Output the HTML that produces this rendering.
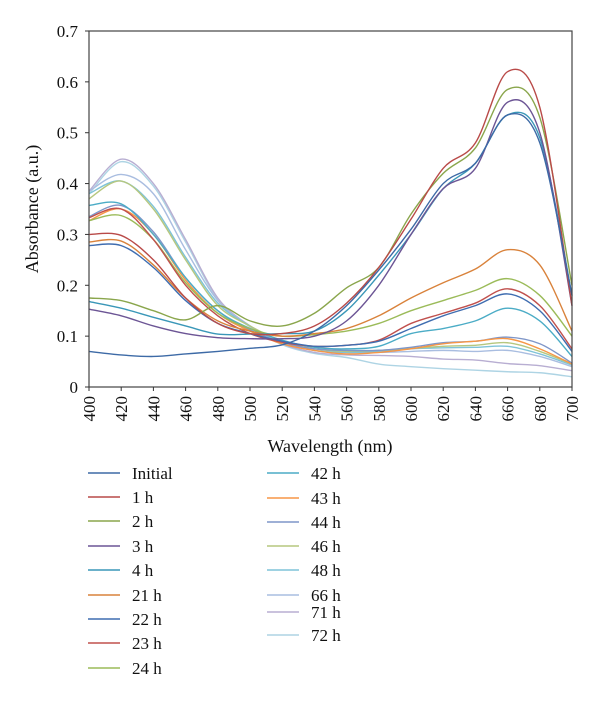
<!DOCTYPE html>
<html><head><meta charset="utf-8"><style>
html,body{margin:0;padding:0;background:#fff;}
svg{display:block;font-family:"Liberation Serif",serif;}
</style></head><body>
<svg id="chart" width="600" height="701" viewBox="0 0 600 701"></svg>
<script>
const wavelengths=[400,420,440,460,480,500,520,540,560,580,600,620,640,660,680,700];
const seriesNames=["Initial","1 h","2 h","3 h","4 h","21 h","22 h","23 h","24 h","42 h","43 h","44 h","46 h","48 h","66 h","71 h","72 h"];
const sInitial=[0.070,0.063,0.060,0.065,0.070,0.076,0.083,0.11,0.16,0.23,0.31,0.40,0.44,0.535,0.48,0.18];
const s1h=[0.300,0.298,0.250,0.175,0.125,0.105,0.105,0.12,0.165,0.235,0.33,0.43,0.48,0.62,0.55,0.16];
const s2h=[0.175,0.170,0.150,0.132,0.160,0.130,0.120,0.145,0.195,0.235,0.34,0.42,0.47,0.585,0.53,0.20];
const s3h=[0.153,0.140,0.120,0.105,0.097,0.095,0.095,0.10,0.13,0.20,0.30,0.39,0.43,0.56,0.50,0.16];
const s4h=[0.168,0.155,0.137,0.120,0.104,0.104,0.105,0.11,0.15,0.22,0.30,0.39,0.44,0.535,0.49,0.18];
const s21h=[0.285,0.287,0.240,0.175,0.130,0.110,0.100,0.105,0.115,0.14,0.175,0.205,0.232,0.27,0.24,0.11];
const s22h=[0.278,0.278,0.235,0.170,0.125,0.105,0.09,0.080,0.082,0.09,0.115,0.14,0.16,0.183,0.15,0.07];
const s23h=[0.333,0.350,0.290,0.200,0.140,0.105,0.088,0.080,0.082,0.092,0.125,0.145,0.165,0.193,0.16,0.075];
const s24h=[0.327,0.337,0.290,0.205,0.145,0.115,0.100,0.103,0.11,0.125,0.15,0.17,0.19,0.213,0.18,0.10];
const s42h=[0.357,0.360,0.300,0.215,0.150,0.115,0.092,0.078,0.075,0.08,0.105,0.115,0.13,0.155,0.13,0.06];
const s43h=[0.327,0.350,0.300,0.210,0.145,0.110,0.085,0.072,0.065,0.068,0.075,0.085,0.09,0.095,0.075,0.045];
const s44h=[0.335,0.357,0.305,0.215,0.150,0.112,0.088,0.075,0.072,0.072,0.078,0.087,0.09,0.098,0.085,0.047];
const s46h=[0.370,0.405,0.350,0.250,0.160,0.120,0.090,0.075,0.070,0.072,0.076,0.08,0.082,0.087,0.07,0.045];
const s48h=[0.380,0.405,0.355,0.255,0.165,0.120,0.088,0.072,0.068,0.07,0.075,0.077,0.078,0.08,0.065,0.043];
const s66h=[0.385,0.418,0.380,0.270,0.170,0.120,0.088,0.072,0.068,0.068,0.07,0.072,0.07,0.072,0.06,0.04];
const s71h=[0.385,0.448,0.400,0.290,0.175,0.120,0.085,0.068,0.063,0.062,0.06,0.055,0.053,0.046,0.042,0.032];
const s72h=[0.380,0.443,0.395,0.285,0.172,0.118,0.083,0.066,0.058,0.045,0.04,0.036,0.033,0.030,0.028,0.02];
const allSeries=[sInitial,s1h,s2h,s3h,s4h,s21h,s22h,s23h,s24h,s42h,s43h,s44h,s46h,s48h,s66h,s71h,s72h];
const colors=["#3d6aa6","#b94a48","#8aa64c","#6c5595","#3a97b8","#d9823b","#3f6db0","#c0504d","#9bbb59","#4bacc6","#f79646","#7f96c8","#b6c77f","#7fc3d8","#a9bde0","#b8aed2","#aed4e4"];
const xTicks=[400,420,440,460,480,500,520,540,560,580,600,620,640,660,680,700];
const yTicks=[0,0.1,0.2,0.3,0.4,0.5,0.6,0.7];
const yTickLabels=["0","0.1","0.2","0.3","0.4","0.5","0.6","0.7"];

const NS="http://www.w3.org/2000/svg";
const svg=document.getElementById('chart');
const L=89,R=572,T=31,B=387;
const xs=v=>L+(v-400)/300*(R-L);
const ys=v=>B-v/0.7*(B-T);
function mk(tag,attrs,parent){const e=document.createElementNS(NS,tag);for(const k in attrs)e.setAttribute(k,attrs[k]);(parent||svg).appendChild(e);return e;}

const g=mk('g',{});



const frame=mk('rect',{x:L,y:T,width:R-L,height:B-T,fill:'none',stroke:'#444','stroke-width':1.2});



yTicks.forEach((v,i)=>{
  const t=mk('line',{x1:L-4,x2:L,y1:ys(v),y2:ys(v),stroke:'#333'});
  
  
  const lb=mk('text',{x:L-11,y:ys(v)+6,'text-anchor':'end','font-size':17,fill:'#111'});
  lb.textContent=yTickLabels[i];
  
  
});
xTicks.forEach(v=>{
  const t=mk('line',{x1:xs(v),x2:xs(v),y1:B,y2:B+4,stroke:'#333'});
  
  
  const lb=mk('text',{x:0,y:0,'text-anchor':'end','font-size':17,fill:'#111',transform:`translate(${xs(v)+6},${B+9}) rotate(-90)`});
  lb.textContent=String(v);
  
  
});
const xt=mk('text',{x:330,y:452,'text-anchor':'middle','font-size':18,fill:'#111'});
xt.textContent='Wavelength (nm)';


const yt=mk('text',{x:0,y:0,'text-anchor':'middle','font-size':18,fill:'#111',transform:`translate(38,${(T+B)/2}) rotate(-90)`});
yt.textContent='Absorbance (a.u.)';



function smoothPath(pts){
  let d=`M${pts[0][0]},${pts[0][1]}`;
  for(let i=0;i<pts.length-1;i++){
    const p0=pts[Math.max(0,i-1)],p1=pts[i],p2=pts[i+1],p3=pts[Math.min(pts.length-1,i+2)];
    const c1=[p1[0]+(p2[0]-p0[0])/6,p1[1]+(p2[1]-p0[1])/6];
    const c2=[p2[0]-(p3[0]-p1[0])/6,p2[1]-(p3[1]-p1[1])/6];
    d+=` C${c1[0]},${c1[1]} ${c2[0]},${c2[1]} ${p2[0]},${p2[1]}`;
  }
  return d;
}
for(let s=allSeries.length-1;s>=0;s--){
  const pts=wavelengths.map((w,i)=>[xs(w),ys(allSeries[s][i])]);
  const p=mk('path',{d:smoothPath(pts),fill:'none',stroke:colors[s],'stroke-width':1.4},g);
  
  
}

const legendRows1=[473,497,521,546,570,595,619,643,668];
const legendRows2=[473,498,522,546,570,595,612,635];
seriesNames.forEach((n,i)=>{
  const col=i<9?0:1;
  const y=col?legendRows2[i-9]:legendRows1[i];
  const x0=col?267:88;
  const ln=mk('line',{x1:x0,x2:x0+32,y1:y,y2:y,stroke:colors[i],'stroke-width':1.5});
  
  
  const t=mk('text',{x:x0+44,y:y+6,'font-size':17,fill:'#111'});
  t.textContent=n;
  
  
});
</script>
</body></html>
